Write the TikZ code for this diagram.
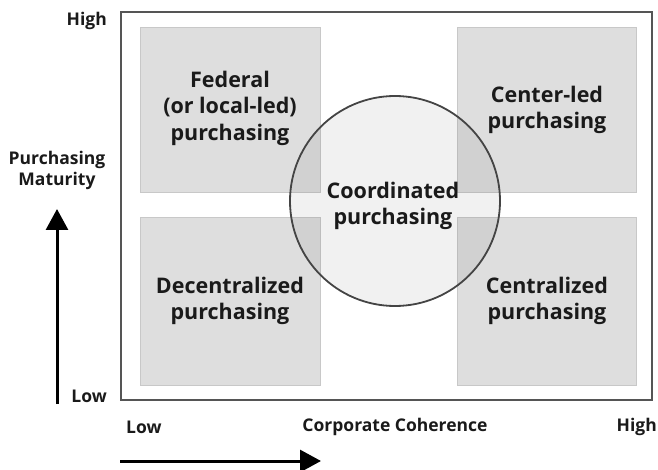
\documentclass[tikz,border=0pt]{standalone}
\usepackage{fontspec}
\setmainfont{Open Sans}
\usetikzlibrary{arrows.meta}
\definecolor{boxfill}{HTML}{DEDEDE}
\definecolor{boxline}{HTML}{C8C8C8}
\definecolor{framec}{HTML}{555555}
\definecolor{circc}{HTML}{444444}
\definecolor{txt}{HTML}{1A1A1A}
\begin{document}
\begin{tikzpicture}[x=1pt,y=-1pt,
  quad/.style={draw=boxline,fill=boxfill,line width=1pt},
  quadtext/.style={align=center,text=txt,font=\fontsize{21.5}{26.5}\selectfont\bfseries},
  axtext/.style={text=txt,font=\fontsize{17.5}{20}\selectfont\bfseries,inner sep=0pt},
  axarrow/.style={line width=3pt,draw=black,-{Triangle[width=22pt,length=21pt]}}]
\useasboundingbox (0,0) rectangle (658,470);
% frame
\draw[framec,line width=2.5pt] (121,12) rectangle (652,400);
% quadrant boxes
\draw[quad] (140,28) rectangle (320,193);
\draw[quad] (457,28) rectangle (636,193);
\draw[quad] (140,218) rectangle (320,385);
\draw[quad] (457,218) rectangle (636,385);
% circle
\node[circle,draw=circc,line width=1.8pt,fill=black,fill opacity=0.055,draw opacity=1,minimum size=210pt,inner sep=0pt] (coord) at (395,201) {};
% texts
\node[quadtext] (fed) at (230,108) {Federal\\(or local-led)\\purchasing};
\node[quadtext] (cen) at (547,110) {Center-led\\purchasing};
\node[quadtext] (dec) at (230,301) {Decentralized\\purchasing};
\node[quadtext] (ctr) at (547,301) {Centralized\\purchasing};
\node[quadtext] (cor) at (393,206) {Coordinated\\purchasing};
% axis labels
\node[axtext,anchor=east] (yhigh) at (107,21) {High};
\node[axtext,anchor=east] (ylow) at (107,396) {Low};
\node[axtext,align=center,font=\fontsize{17.5}{21}\selectfont\bfseries] (ylab) at (57,170) {Purchasing\\Maturity};
\node[axtext,anchor=west] (xlow) at (126,427) {Low};
\node[axtext] (xlab) at (395,427) {Corporate Coherence};
\node[axtext,anchor=east] (xhigh) at (657,427) {High};
% arrows
\coordinate (ya) at (57,404);
\coordinate (yb) at (57,209);
\coordinate (xa) at (120,461);
\coordinate (xb) at (321,461);
\draw[axarrow] (ya) -- (yb);
\draw[axarrow] (xa) -- (xb);
\end{tikzpicture}
\end{document}
